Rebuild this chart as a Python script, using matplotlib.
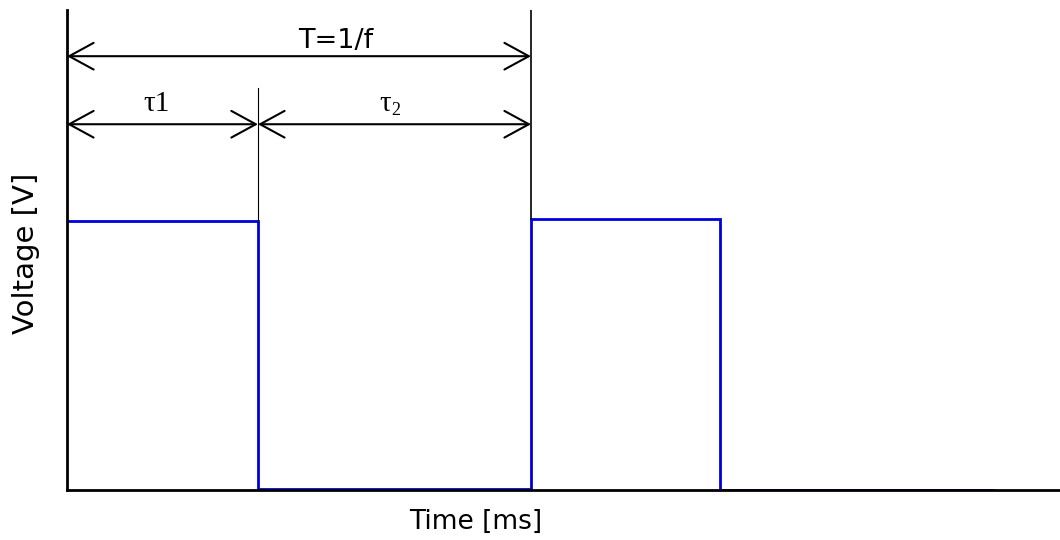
import matplotlib
matplotlib.use("Agg")
import matplotlib.pyplot as plt
import numpy as np

# square wave corners (time, voltage)
t_edges = [0.0, 2.0, 2.0, 4.86, 4.86, 6.84, 6.84, 9.70]
v_levels = [1.0, 1.0, 0.005, 0.005, 1.007, 1.007, 0.0, 0.0]

tau1 = 2.0
tau2 = 2.86
period = tau1 + tau2

fig = plt.figure(figsize=(10.6, 5.4), dpi=100)
ax = fig.add_axes([0.0632, 0.0926, 0.9368, 0.889])

ax.plot(t_edges, v_levels, color='#0000dd', lw=2, solid_joinstyle='miter')

# marker lines
ax.plot([tau1, tau1], [1.0, 1.494], color='black', lw=0.8)
ax.plot([period, period], [1.007, 1.785], color='black', lw=1.2)

arrow = dict(arrowstyle='<->,head_length=1.1,head_width=0.6', color='black',
             lw=1.5, shrinkA=0, shrinkB=0, mutation_scale=16)
ax.annotate('', xy=(0, 1.613), xytext=(period, 1.613), arrowprops=arrow)
ax.annotate('', xy=(0, 1.36), xytext=(tau1, 1.36), arrowprops=arrow)
ax.annotate('', xy=(tau1, 1.36), xytext=(period, 1.36), arrowprops=arrow)

ax.text(2.81, 1.643, 'T=1/f', ha='center', va='baseline', fontsize=19.5)
ax.text(0.94, 1.408, '\u03c41', ha='center', va='baseline', fontsize=21,
        family='Liberation Serif')
ax.text(3.33, 1.408, '\u03c4', ha='center', va='baseline', fontsize=21,
        family='Liberation Serif')
ax.text(3.40, 1.393, '2', ha='left', va='baseline', fontsize=13,
        family='Liberation Serif')

ax.set_xlim(0, 10.4)
ax.set_ylim(0, 1.785)
ax.set_xticks([])
ax.set_yticks([])
ax.spines['top'].set_visible(False)
ax.spines['right'].set_visible(False)
ax.spines['left'].set_linewidth(2)
ax.spines['bottom'].set_linewidth(2)
ax.set_xlabel('Time [ms]', fontsize=19)
ax.set_ylabel('Voltage [V]', fontsize=21)
ax.xaxis.set_label_coords(0.412, -0.04)
ax.yaxis.set_label_coords(-0.027, 0.492)

fig.savefig('out.png', dpi=100)
